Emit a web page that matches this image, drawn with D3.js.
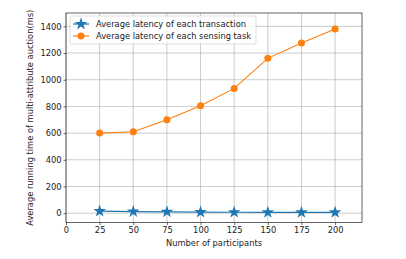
<!DOCTYPE html>
<html>
<head>
<meta charset="utf-8">
<script src="https://cdn.jsdelivr.net/npm/d3@7"></script>
<style>
  body { margin: 0; background: #fff; }
  text { font-family: "DejaVu Sans", sans-serif; }
</style>
</head>
<body>
<svg id="chart" width="406" height="259"></svg>
<script>
// data
const participants = [25, 50, 75, 100, 125, 150, 175, 200];
const transactionLatency = [15, 12, 10, 8, 7, 6, 6, 6];
const sensingLatency = [600, 610, 700, 805, 935, 1160, 1275, 1380];
const xTicks = [0, 25, 50, 75, 100, 125, 150, 175, 200];
const yTicks = [0, 200, 400, 600, 800, 1000, 1200, 1400];
const seriesNames = ["Average latency of each transaction", "Average latency of each sensing task"];
const colors = ["#1f77b4", "#ff7f0e"];

const svg = d3.select("#chart");
const plotL = 66, plotR = 362, plotT = 13, plotB = 222.5;
const fs = 8.3;

const x = d3.scaleLinear().domain([0, 220]).range([plotL, plotR]);
const y = d3.scaleLinear().domain([-70, 1500]).range([plotB, plotT]);

// grid
const grid = svg.append("g");
grid.selectAll(".gx").data(xTicks).enter().append("line")
  .attr("x1", d => x(d)).attr("x2", d => x(d))
  .attr("y1", plotT).attr("y2", plotB)
  .attr("stroke", "#b0b0b0").attr("stroke-width", 0.8).attr("opacity", 0.8);
grid.selectAll(".gy").data(yTicks).enter().append("line")
  .attr("x1", plotL).attr("x2", plotR)
  .attr("y1", d => y(d)).attr("y2", d => y(d))
  .attr("stroke", "#b0b0b0").attr("stroke-width", 0.8).attr("opacity", 0.8);

// axes
const xAxis = svg.append("g").attr("transform", `translate(0,${plotB})`)
  .call(d3.axisBottom(x).tickValues(xTicks).tickFormat(d3.format("d")).tickSize(2.5).tickPadding(2));
const yAxis = svg.append("g").attr("transform", `translate(${plotL},0)`)
  .call(d3.axisLeft(y).tickValues(yTicks).tickFormat(d3.format("d")).tickSize(2.5).tickPadding(2));
[xAxis, yAxis].forEach(a => {
  a.select(".domain").remove();
  a.selectAll("text").attr("font-size", fs).attr("fill", "#222")
    .style("font-family", "DejaVu Sans");
  a.selectAll("line").attr("stroke", "#000").attr("stroke-width", 0.6);
});

svg.append("rect")
  .attr("x", plotL).attr("y", plotT)
  .attr("width", plotR - plotL).attr("height", plotB - plotT)
  .attr("fill", "none").attr("stroke", "#222").attr("stroke-width", 0.7);

const line = d3.line().x((d, i) => x(participants[i])).y(d => y(d));
const star = d3.symbol().type(d3.symbolStar).size(50);

// sensing task series
svg.append("path").datum(sensingLatency).attr("d", line)
  .attr("fill", "none").attr("stroke", colors[1]).attr("stroke-width", 1.1);
svg.selectAll(".dot").data(sensingLatency).enter().append("circle")
  .attr("cx", (d, i) => x(participants[i])).attr("cy", d => y(d))
  .attr("r", 3.5).attr("fill", colors[1]);

// transaction series
svg.append("path").datum(transactionLatency).attr("d", line)
  .attr("fill", "none").attr("stroke", colors[0]).attr("stroke-width", 1.2);
svg.selectAll(".star").data(transactionLatency).enter().append("path")
  .attr("d", star)
  .attr("transform", (d, i) => `translate(${x(participants[i])},${y(d)})`)
  .attr("fill", colors[0]);

// legend
const lg = svg.append("g");
lg.append("rect").attr("x", 70).attr("y", 16).attr("width", 186).attr("height", 28)
  .attr("rx", 2).attr("fill", "#fff").attr("fill-opacity", 0.8)
  .attr("stroke", "#d0d0d0").attr("stroke-width", 0.7);
seriesNames.forEach((name, i) => {
  const ly = 24 + i * 12;
  lg.append("line").attr("x1", 73).attr("x2", 89).attr("y1", ly).attr("y2", ly)
    .attr("stroke", colors[i]).attr("stroke-width", 1.2);
  if (i === 0) {
    lg.append("path").attr("d", star).attr("transform", `translate(81,${ly})`).attr("fill", colors[0]);
  } else {
    lg.append("circle").attr("cx", 81).attr("cy", ly).attr("r", 3.5).attr("fill", colors[1]);
  }
  lg.append("text").attr("x", 96).attr("y", ly).attr("dy", "0.35em")
    .attr("font-size", fs).attr("fill", "#222").text(name);
});

// axis labels
svg.append("text").attr("x", (plotL + plotR) / 2).attr("y", 246)
  .attr("text-anchor", "middle").attr("font-size", fs).attr("fill", "#222").text("Number of participants");
svg.append("text")
  .attr("transform", `translate(33,${(plotT + plotB) / 2}) rotate(-90)`)
  .attr("text-anchor", "middle").attr("font-size", fs).attr("fill", "#222")
  .text("Average running time of multi-attribute auction(ms)");
</script>
</body>
</html>
